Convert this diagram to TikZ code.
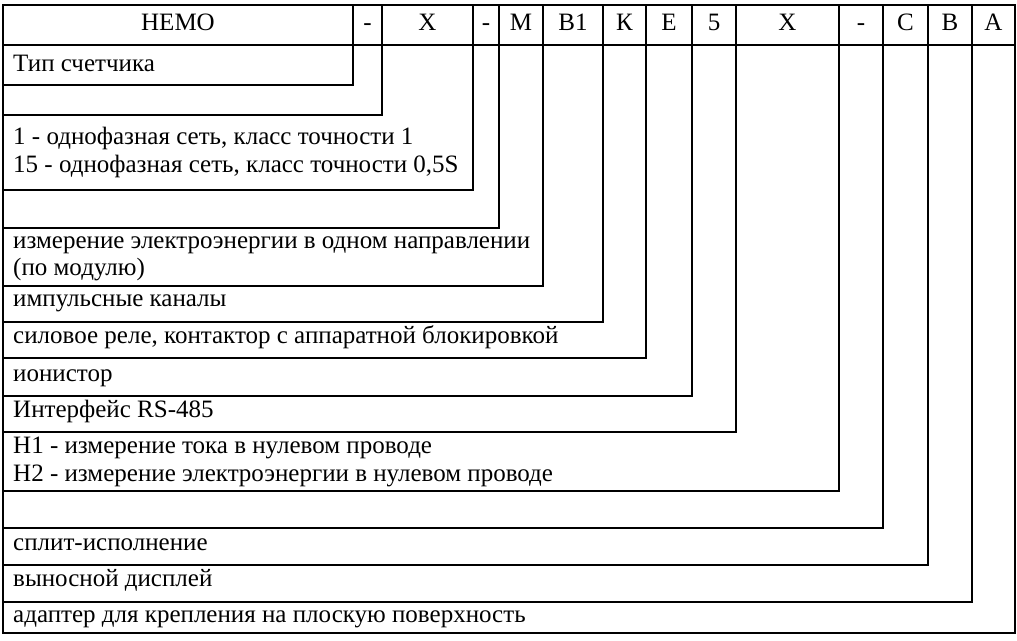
\documentclass[tikz,border=0pt]{standalone}
\usepackage{fontspec}
\setmainfont{Liberation Serif}
\tikzset{
  rowtext/.style = {anchor = west, font = \fontsize{25}{28}\selectfont, inner sep = 0pt,
    text height = 12pt, text depth = 4pt},
  headtext/.style = {anchor = center, font = \fontsize{25}{28}\selectfont, inner sep = 0pt,
    text height = 12pt, text depth = 4pt},
  gridline/.style = {line width = 1.3pt, line cap = rect},
}
\begin{document}
\begin{tikzpicture}[x = 1pt, y = -1pt]
            \useasboundingbox (0,0) rectangle (1017,640);
            %% frame
            \draw [gridline]
            (3,5) -- (1015,5) -- (1015,633) -- (3,633) -- cycle
            (3,45) -- (1015,45)
            ;
            %% header cells
            \foreach \xl/\xr/\lbl [count = \i] in {
              3/353/НЕМО, 353/382/-, 382/473/X, 473/499/-, 499/543/М,
              543/603/В1, 603/646/К, 646/692/Е, 692/736/5, 736/839/X,
              839/883/-, 883/928/С, 928/972/В, 972/1015/А}
            {
              \node [headtext] (head\i) at ({(\xl+\xr)/2},26) {\lbl};
            }
            %% steps down to each row
            \foreach \xs/\yb in {
              353/85, 382/115, 473/190, 499/228, 543/286, 603/322, 646/358,
              692/396, 736/432, 839/491, 883/528, 928/565, 972/602}
            {
              \draw [gridline] (\xs,5) -- (\xs,\yb) -- (3,\yb);
            }
            %% row texts
            \node [rowtext] (type)  at (13,67)  {Тип счетчика};
            \node [rowtext] (cls1)  at (13,140) {1 - однофазная сеть, класс точности 1};
            \node [rowtext] (cls15) at (13,168) {15 - однофазная сеть, класс точности 0,5S};
            \node [rowtext] (meas1) at (13,244) {измерение электроэнергии в одном направлении};
            \node [rowtext] (meas2) at (13,271) {(по модулю)};
            \node [rowtext] (pulse) at (13,302) {импульсные каналы};
            \node [rowtext] (relay) at (13,339) {силовое реле, контактор с аппаратной блокировкой};
            \node [rowtext] (ion)   at (13,377) {ионистор};
            \node [rowtext] (iface) at (13,413) {Интерфейс RS-485};
            \node [rowtext] (nullA) at (13,449) {Н1 - измерение тока в нулевом проводе};
            \node [rowtext] (nullB) at (13,477) {Н2 - измерение электроэнергии в нулевом проводе};
            \node [rowtext] (split) at (13,546) {сплит-исполнение};
            \node [rowtext] (disp)  at (13,582) {выносной дисплей};
            \node [rowtext] (mount) at (13,618) {адаптер для крепления на плоскую поверхность};
        \end{tikzpicture}
\end{document}
